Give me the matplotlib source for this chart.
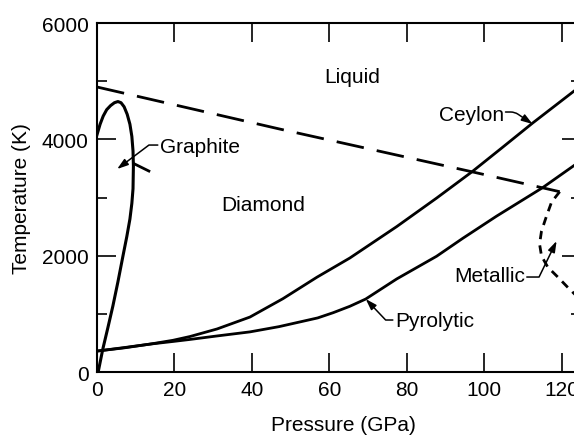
import matplotlib
matplotlib.use("Agg")
import matplotlib.pyplot as plt
from matplotlib.ticker import MultipleLocator, NullLocator

plt.rcParams["font.family"] = ["Liberation Sans", "DejaVu Sans"]
plt.rcParams["lines.scale_dashes"] = False

# liquid / solid boundary (dashed)
LIQ_P = [0, 47, 97, 119.5]
LIQ_T = [4900, 4180, 3440, 3100]

# graphite-diamond boundary, closing into the graphite loop
GR_P = [0.3, 1.5, 2.8, 4.1, 5.4, 6.7, 7.7, 8.5, 9.0, 9.3, 9.4, 9.3, 9.0, 8.5,
        7.8, 7.0, 6.2, 5.4, 4.5, 3.5, 2.5, 1.6, 0.8, 0.0]
GR_T = [0, 395, 760, 1135, 1550, 1994, 2330, 2630, 2900, 3150, 3540, 3800,
        4050, 4260, 4430, 4560, 4630, 4650, 4630, 4580, 4510, 4400, 4260, 4080]
GR_STUB_P = [9.6, 13.4]
GR_STUB_T = [3580, 3455]

# shock Hugoniots
CEY_P = [0, 7, 13.7, 19.6, 24, 31, 39.5, 48, 56.8, 65.3, 77.4, 87.7, 96.8,
         104.5, 112.5, 123.2]
CEY_T = [360, 415, 480, 545, 610, 740, 945, 1260, 1630, 1960, 2500, 2990,
         3440, 3850, 4280, 4830]
PYR_P = [0, 7, 13.7, 19.6, 24, 31, 39.5, 47, 53, 57, 61, 65.3, 69.4, 77.4,
         87.7, 94.5, 103.2, 111.7, 115.1, 123.2]
PYR_T = [360, 420, 480, 525, 560, 620, 690, 780, 870, 930, 1020, 1130, 1255,
         1600, 1990, 2300, 2680, 3030, 3170, 3550]

# metallic phase boundary (short dashes)
MET_P = [119.5, 117.4, 116.1, 114.8, 114.3, 114.8, 116.4, 119.0, 121.5, 123.5]
MET_T = [3100, 2922, 2682, 2424, 2200, 1994, 1805, 1633, 1461, 1330]

# region / curve labels
LABELS = ["Liquid", "Diamond", "Graphite", "Ceylon", "Pyrolytic", "Metallic"]
LABEL_P = [65.8, 43.0, 16.3, 96.8, 76.9, 110.5]
LABEL_T = [4985, 2785, 3782, 4332, 791, 1564]
LABEL_HA = ["center", "center", "left", "center", "left", "right"]

# leader arrows: start, tip, angle of the last segment
ARROW_FROM = [(15.7, 3902), (105.5, 4470), (76.4, 894), (111.0, 1633)]
ARROW_TO = [(5.2, 3490), (112.5, 4263), (69.4, 1255), (118.7, 2252)]
ARROW_ANGLE = [37, -34, 133.5, 64]
ARROW_RAD = [0, 4, 0, 0]

fig = plt.figure(figsize=(5.74, 4.39), dpi=100)
# axis runs to 125 GPa, right spine falls just outside the crop
ax = fig.add_axes([0.169, 0.1503, 0.8432, 0.795])

ax.plot(LIQ_P, LIQ_T, color="black", lw=2.0, dashes=(20, 9.5))
ax.plot(GR_P, GR_T, color="black", lw=2.2, solid_joinstyle="round")
ax.plot(GR_STUB_P, GR_STUB_T, color="black", lw=2.0)
ax.plot(CEY_P, CEY_T, color="black", lw=2.0, solid_joinstyle="round")
ax.plot(PYR_P, PYR_T, color="black", lw=2.0, solid_joinstyle="round")
ax.plot(MET_P, MET_T, color="black", lw=2.0, dashes=(6, 4.5))

for txt, p, t, ha in zip(LABELS, LABEL_P, LABEL_T, LABEL_HA):
    ax.text(p, t, txt, ha=ha, va="baseline", fontsize=15)

for start, tip, ang, rad in zip(ARROW_FROM, ARROW_TO, ARROW_ANGLE, ARROW_RAD):
    ax.annotate("", xy=tip, xytext=start,
                arrowprops=dict(arrowstyle="-|>,head_length=0.55,head_width=0.18",
                                connectionstyle=f"angle,angleA=0,angleB={ang},rad={rad}",
                                color="black", lw=1.1, mutation_scale=12,
                                shrinkA=0, shrinkB=0))

ax.set_xlim(0, 125)
ax.set_ylim(0, 6000)
ax.xaxis.set_major_locator(MultipleLocator(20))
ax.xaxis.set_minor_locator(NullLocator())
ax.yaxis.set_major_locator(MultipleLocator(2000))
ax.yaxis.set_minor_locator(MultipleLocator(1000))
ax.tick_params(which="both", direction="in", top=True, right=True,
               labelsize=15, width=1.2)
ax.tick_params(axis="x", which="major", length=14, pad=5.5)
ax.tick_params(axis="y", which="major", length=14, pad=6)
ax.tick_params(axis="y", which="minor", length=7)
for sp in ax.spines.values():
    sp.set_linewidth(1.5)

ax.set_xlabel("Pressure (GPa)", fontsize=15)
ax.set_ylabel("Temperature (K)", fontsize=15)
ax.xaxis.set_label_coords(0.51, -0.123)
ax.yaxis.set_label_coords(-0.137, 0.5)

fig.savefig("out.png", dpi=100)
